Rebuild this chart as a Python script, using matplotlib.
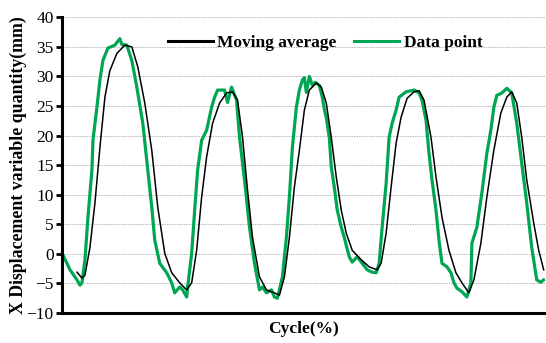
import matplotlib
matplotlib.use("Agg")
import matplotlib.pyplot as plt

# data point series (cycle sample, displacement mm)
green_x = [1, 8, 15, 18, 20, 23, 26, 30, 31, 35, 38, 41, 46, 53, 58, 60, 65, 70, 75, 81, 86,
           90, 93, 98, 105, 110, 113, 118, 121, 125, 126, 130, 133, 136, 140, 145, 150, 153, 156, 163, 166,
           170, 175, 178, 183, 188, 193, 198, 201, 205, 210, 213, 216, 221, 225, 228, 231, 235, 238, 241, 243,
           245, 248, 251, 254, 258, 261, 263, 265, 268, 270, 273, 276, 280, 283, 288, 291, 296, 301, 306, 311, 315, 318, 321, 325,
           328, 331, 335, 338, 345, 353, 358, 361, 365, 368, 371, 375, 378, 381, 386, 390, 393, 396, 401, 406,
           410, 411, 416, 421, 426, 430, 433, 436, 441, 446, 451, 456, 461, 466, 471, 476, 480, 483]
green_y = [-0.2, -2.7, -4.4, -5.3, -4.9, -1.0, 6.2, 14.2, 19.2, 24.8, 29.4, 32.7, 34.8, 35.3, 36.4, 35.4, 35.3, 32.7, 28.2, 22.1, 14.2,
           7.9, 2.3, -1.6, -3.2, -4.9, -6.6, -5.6, -6.1, -7.3, -5.6, 0.1, 7.4, 14.2, 19.2, 20.9, 24.8, 26.5, 27.7, 27.7, 25.6,
           28.2, 26.0, 19.7, 12.5, 4.5, -1.6, -6.1, -5.6, -6.6, -6.1, -7.3, -7.5, -3.9, 2.8, 9.6, 18.0, 24.8, 27.7, 29.4, 29.8,
           27.3, 30.0, 28.5, 29.0, 28.5, 26.5, 24.5, 23.0, 19.7, 14.7, 11.3, 7.4, 4.5, 2.8, -0.5, -1.4, -0.5, -1.6, -2.7, -3.1, -3.2, -1.6, 4.5, 11.9,
           19.7, 22.1, 24.3, 26.5, 27.4, 27.7, 27.2, 26.0, 22.6, 17.0, 12.5, 7.4, 2.3, -1.6, -2.2, -3.2, -4.9, -5.8, -6.4, -7.3,
           -4.9, 1.8, 4.5, 10.3, 17.0, 20.9, 24.8, 26.8, 27.2, 28.0, 27.2, 22.1, 15.3, 8.6, 1.1, -4.4, -4.8, -4.4]

# moving average series
black_x = [15, 20, 23, 28, 33, 38, 43, 48, 55, 63, 70, 76, 83, 90, 96, 103, 110, 118, 125, 130,
           135, 140, 145, 151, 158, 165, 171, 176, 181, 186, 191, 198, 205, 213, 218, 223, 228, 233, 238, 243,
           248, 255, 260, 265, 270, 275, 280, 285, 291, 300, 308, 316, 320, 325, 330, 335, 340, 346, 353, 358,
           363, 370, 375, 381, 388, 395, 401, 408, 413, 420, 426, 433, 440, 446, 451, 456, 461, 466, 473, 478, 483]
black_y = [-3.1, -4.1, -3.6, 1.1, 8.6, 18.0, 26.5, 31.0, 33.9, 35.3, 35.0, 31.6, 25.5, 17.5, 7.9, 0.1, -3.2, -4.9, -6.1, -4.9,
           0.6, 9.6, 16.4, 22.1, 25.5, 27.2, 27.4, 26.0, 19.7, 10.8, 2.8, -3.9, -6.1, -6.6, -7.0, -3.9, 2.8, 11.3, 17.5, 24.3,
           27.7, 28.9, 28.2, 25.5, 19.7, 13.0, 7.4, 3.5, 0.6, -1.0, -2.2, -2.7, -1.6, 3.5, 11.3, 18.7, 23.1, 26.3, 27.4, 27.6,
           26.0, 19.7, 13.0, 6.2, 0.6, -3.2, -4.9, -6.6, -4.4, 1.8, 9.6, 17.5, 23.8, 26.5, 27.4, 25.5, 19.7, 12.5, 5.2, 0.6, -2.7]

y_ticks = [-10, -5, 0, 5, 10, 15, 20, 25, 30, 35, 40]

plt.rcParams['font.family'] = ['Liberation Serif', 'DejaVu Serif']

fig = plt.figure(figsize=(5.46, 3.43), dpi=100)
ax = fig.add_axes([0.1136, 0.0875, 0.884, 0.862])

ax.plot(green_x, green_y, color='#00a651', linewidth=2.3, label='Data point', zorder=2)
ax.plot(black_x, black_y, color='black', linewidth=1.1, label='Moving average', zorder=3)

ax.set_xlim(0, 484)
ax.set_ylim(-10, 40)
ax.set_yticks(y_ticks)
ax.set_xticks([])
ax.yaxis.grid(True, linestyle=(0, (2, 1.5)), color='#9a9a9a', linewidth=0.5)
ax.set_axisbelow(True)

for s in ['top', 'right']:
    ax.spines[s].set_visible(False)
ax.spines['left'].set_linewidth(2.2)
ax.spines['bottom'].set_linewidth(2.2)
ax.tick_params(axis='y', direction='out', length=4, width=2, labelsize=12.5, pad=2)

ax.set_ylabel('X Displacement variable quantity(mm)', fontsize=12.8, fontweight='bold', labelpad=0)
ax.set_xlabel('Cycle(%)', fontsize=12.5, fontweight='bold', labelpad=6)

handles, labels = ax.get_legend_handles_labels()
leg = ax.legend(handles[::-1], labels[::-1], loc='center', bbox_to_anchor=(0.545, 0.912), ncol=2,
                frameon=False, handlelength=2.6, handletextpad=0.25, columnspacing=1.0,
                prop={'weight': 'bold', 'size': 12.5})
for line in leg.get_lines():
    line.set_linewidth(2.2)

fig.savefig('out.png', dpi=100)
